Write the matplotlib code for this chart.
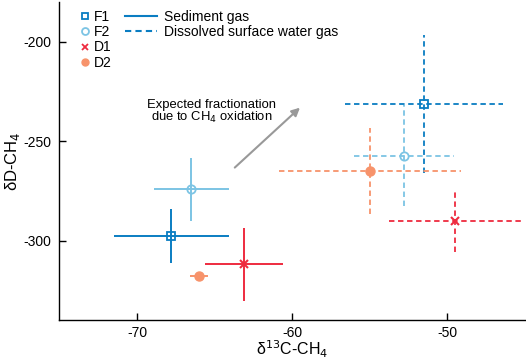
import matplotlib
matplotlib.use("Agg")
import matplotlib.pyplot as plt
from matplotlib.lines import Line2D

plt.rcParams['font.family'] = ['Liberation Sans', 'DejaVu Sans']

labels = ["F1", "F2", "D1", "D2"]
colors = ["#0A7DC2", "#7CC4E4", "#EE2B3F", "#F7936B"]
markers = ["s", "o", "x", "o"]
fills = [False, False, True, True]

# Sediment gas
sed_x = [-67.8, -66.5, -63.1, -66.0]
sed_xerr = [3.7, 2.4, 2.5, 0.6]
sed_y = [-297.6, -274.2, -311.9, -317.6]
sed_yerr = [13.5, 15.8, 18.3, 1.5]

# Dissolved surface water gas
dis_x = [-51.5, -52.8, -49.5, -55.0]
dis_xerr = [5.1, 3.2, 4.25, 5.85]
dis_y = [-231.3, -257.3, -290.1, -265.0]
dis_yerr = [34.6, 25.5, 15.4, 21.5]

arrow_start = (-63.7, -263.3)
arrow_end = (-59.5, -233.2)

fig = plt.figure(figsize=(5.26, 3.61), dpi=100)
ax = fig.add_axes([0.113, 0.113, 0.885, 0.882])

def draw(xs, xe, ys, ye, ls):
    for i in range(4):
        c = colors[i]
        eb = ax.errorbar(xs[i], ys[i], xerr=xe[i], yerr=ye[i], fmt='none',
                         ecolor=c, elinewidth=1.4 if ls == '-' else 1.3,
                         capsize=0, zorder=2)
        for lc in eb[2]:
            lc.set_linestyle(ls if ls == '-' else (0, (3, 2)))
        if markers[i] == 'x':
            ax.plot(xs[i], ys[i], marker='x', color=c, markersize=6,
                    markeredgewidth=1.5, linestyle='none', zorder=3)
        elif fills[i]:
            ax.plot(xs[i], ys[i], marker='o', color=c, markersize=6.5,
                    markeredgecolor=c, linestyle='none', zorder=3)
        else:
            ax.plot(xs[i], ys[i], marker=markers[i], markerfacecolor='none',
                    markeredgecolor=c, markersize=6, markeredgewidth=1.3,
                    linestyle='none', zorder=3)

draw(sed_x, sed_xerr, sed_y, sed_yerr, '-')
draw(dis_x, dis_xerr, dis_y, dis_yerr, '--')

ax.annotate('', xy=arrow_end, xytext=arrow_start,
            arrowprops=dict(arrowstyle='-|>', color='#999999', lw=1.5,
                            mutation_scale=12, shrinkA=0, shrinkB=0))
ax.text(-65.2, -235.3, 'Expected fractionation\ndue to CH$_4$ oxidation',
        ha='center', va='center', fontsize=9.4, linespacing=0.95)

ax.set_xlim(-75, -45)
ax.set_ylim(-340, -180)
ax.set_xticks([-70, -60, -50])
ax.set_yticks([-300, -250, -200])
ax.set_xticklabels(['-70', '-60', '-50'])
ax.set_yticklabels(['-300', '-250', '-200'])
ax.tick_params(direction='in', length=5, width=1, labelsize=10, pad=6)
ax.tick_params(axis='x', pad=4)
for s in ['top', 'right']:
    ax.spines[s].set_visible(False)
for s in ['left', 'bottom']:
    ax.spines[s].set_linewidth(1)

ax.set_xlabel('δ$^{13}$C-CH$_4$', fontsize=11.5, labelpad=-1)
ax.set_ylabel('δD-CH$_4$', fontsize=12, labelpad=1)

# Legend 1: samples
h1 = []
for i in range(4):
    if markers[i] == 'x':
        h1.append(Line2D([], [], marker='x', color=colors[i], markersize=4,
                         markeredgewidth=1.3, linestyle='none'))
    elif fills[i]:
        h1.append(Line2D([], [], marker='o', color=colors[i], markersize=5,
                         linestyle='none'))
    else:
        h1.append(Line2D([], [], marker=markers[i], markerfacecolor='none',
                         markeredgecolor=colors[i], markersize=5,
                         markeredgewidth=1.3, linestyle='none'))
leg1 = ax.legend(h1, labels, loc='upper left', bbox_to_anchor=(0.026, 1.006),
                 frameon=False, fontsize=10, handlelength=0.6,
                 handletextpad=0.3, labelspacing=0.1, borderpad=0.2)
ax.add_artist(leg1)

h2 = [Line2D([], [], color='#0A7DC2', lw=1.5, linestyle='-'),
      Line2D([], [], color='#0A7DC2', lw=1.5, linestyle=(0, (3, 2)))]
ax.legend(h2, ['Sediment gas', 'Dissolved surface water gas'],
          loc='upper left', bbox_to_anchor=(0.12, 1.006), frameon=False,
          fontsize=10, handlelength=2.3, handletextpad=0.5,
          labelspacing=0.1, borderpad=0.2)

fig.savefig('out.png', dpi=100)
